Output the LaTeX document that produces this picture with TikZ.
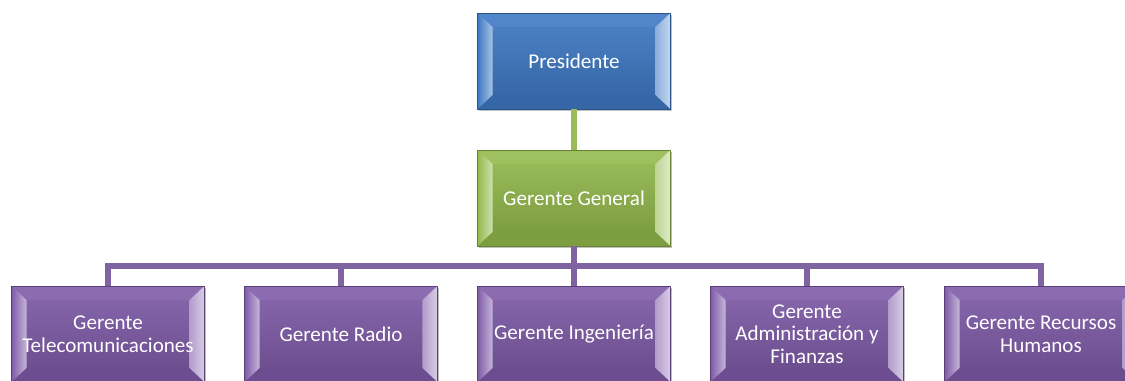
\documentclass[tikz,border=0pt]{standalone}
\usepackage{fontspec}
\setmainfont{Carlito}
\usetikzlibrary{calc,shadows}
\definecolor{presblue}{HTML}{3E79C4}
\definecolor{gggreen}{HTML}{93B94C}
\definecolor{mgrpurple}{HTML}{7F5BA8}
\definecolor{greenline}{HTML}{9BBB59}
\definecolor{purpleline}{HTML}{8064A2}

\begin{document}
\begin{tikzpicture}[x=0.02cm,y=-0.02cm,
    box/.style={draw=#1!70!black, line width=0.3pt, top color=#1!92!white, bottom color=#1!82!black,
      minimum width=3.86cm, minimum height=1.92cm, align=center, inner sep=0pt,
      text=white, font=\fontsize{12}{12.8}\selectfont,
      drop shadow={shadow xshift=1pt, shadow yshift=-1.2pt, opacity=0.25, fill=black},
      path picture={
        \coordinate (nw) at (path picture bounding box.north west);
        \coordinate (ne) at (path picture bounding box.north east);
        \coordinate (sw) at (path picture bounding box.south west);
        \coordinate (se) at (path picture bounding box.south east);
        \fill[#1!90!white] (nw) -- (ne) -- ($(ne)+(-0.3cm,-0.28cm)$) -- ($(nw)+(0.3cm,-0.28cm)$) -- cycle;
        \fill[#1!85!black] (sw) -- (se) -- ($(se)+(-0.3cm,0.28cm)$) -- ($(sw)+(0.3cm,0.28cm)$) -- cycle;
        \shade[left color=#1, right color=#1!45!white] (nw) -- ($(nw)+(0.3cm,-0.28cm)$) -- ($(sw)+(0.3cm,0.28cm)$) -- (sw) -- cycle;
        \shade[left color=#1!60!white, right color=#1!30!white] (ne) -- ($(ne)+(-0.3cm,-0.28cm)$) -- ($(se)+(-0.3cm,0.28cm)$) -- (se) -- cycle;
      }},
    link/.style={line width=0.13cm, draw=#1}]
  \useasboundingbox (0,0) rectangle (1125,381);
  \coordinate (bus) at (574,266);
  \node[box=presblue] (pres) at (574,61) {Presidente};
  \node[box=gggreen] (gg) at (574,198) {Gerente General};
  \draw[link=greenline] (pres) -- (gg);
  \draw[link=purpleline] (gg.south) -- (bus);
  \node[box=mgrpurple] (tel) at (108,334) {Gerente\\Telecomunicaciones};
  \node[box=mgrpurple] (rad) at (341,334) {Gerente Radio};
  \node[box=mgrpurple] (ing) at (574,334) {Gerente Ingeniería};
  \node[box=mgrpurple] (adm) at (807,334) {Gerente\\Administración y\\Finanzas};
  \node[box=mgrpurple] (rrhh) at (1041,334) {Gerente Recursos\\Humanos};
  \draw[link=purpleline] (tel.north) |- (bus) -| (rrhh.north);
  \draw[link=purpleline] (rad.north) -- (rad.north |- bus);
  \draw[link=purpleline] (bus) -- (ing.north);
  \draw[link=purpleline] (adm.north) -- (adm.north |- bus);
\end{tikzpicture}
\end{document}
